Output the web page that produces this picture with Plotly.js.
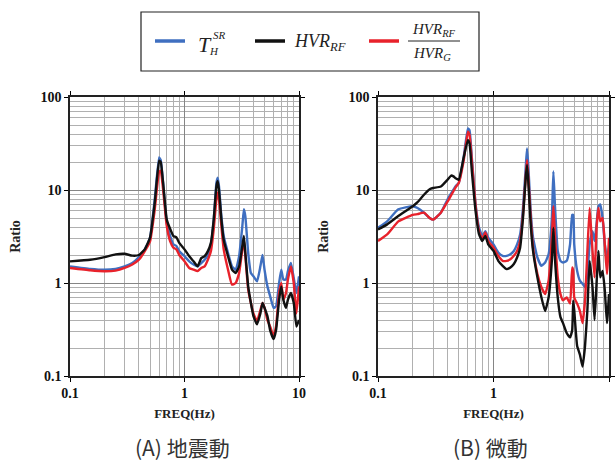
<!DOCTYPE html>
<html>
<head>
<meta charset="utf-8">
<script src="https://cdn.plot.ly/plotly-3.0.1.min.js"></script>
<style>html,body{margin:0;padding:0;background:#fff;}#chart{width:615px;height:467px;}</style>
</head>
<body>
<div id="chart"></div>
<script>
// ---- Data ----
const freqA = [0.1,0.15,0.2,0.25,0.3,0.35,0.4,0.45,0.5,0.55,0.6,0.62,0.65,0.7,0.75,0.8,0.85,0.9,1.0,1.1,1.2,1.3,1.4,1.5,1.6,1.7,1.8,1.9,1.95,2.0,2.1,2.2,2.4,2.6,2.8,3.0,3.2,3.3,3.4,3.6,3.8,4.0,4.3,4.6,4.8,5.0,5.3,5.6,6.0,6.3,6.7,7.0,7.3,7.7,8.0,8.5,9.0,9.5,10];
const tsrA  = [1.51,1.42,1.39,1.42,1.51,1.64,1.9,2.3,3.07,8,22.4,21,12,4.4,3.2,2.6,2.5,2.2,1.94,1.71,1.58,1.51,1.64,1.78,2.0,2.6,4.8,12,13.6,11,5.2,3.2,2.1,1.51,1.39,1.94,4.1,6.2,5.2,2.1,1.28,1.18,1.04,1.51,2.0,1.39,0.92,0.72,0.54,0.56,1.0,1.39,1.09,1.09,1.34,1.64,1.13,0.78,1.18];
const hvrA  = [1.71,1.78,1.9,2.03,2.06,1.97,2.0,2.3,3.07,7.3,20.6,20,12,4.8,3.8,3.2,3.1,2.7,2.3,1.94,1.71,1.51,1.85,1.94,2.2,2.7,4.8,11,12.5,10,4.8,2.9,1.94,1.39,1.28,1.51,2.5,3.2,2.1,0.92,0.61,0.44,0.36,0.47,0.61,0.54,0.44,0.31,0.25,0.31,0.66,0.92,0.66,0.54,0.66,0.78,0.61,0.34,0.4];
const ratioA = [1.45,1.37,1.34,1.36,1.45,1.58,1.78,2.2,2.8,6.2,15.7,16.1,10.2,4.1,2.8,2.4,2.3,2.0,1.71,1.45,1.39,1.34,1.45,1.51,1.78,2.2,3.8,8,9.4,8,4.1,2.3,1.39,0.96,1.0,1.28,2.3,2.9,1.94,0.85,0.61,0.47,0.39,0.51,0.61,0.54,0.4,0.34,0.27,0.34,0.78,1.0,0.66,0.78,1.09,1.51,1.0,0.47,0.92];

const freqB = [0.1,0.12,0.15,0.2,0.22,0.25,0.28,0.3,0.35,0.4,0.43,0.45,0.47,0.5,0.55,0.6,0.62,0.65,0.7,0.75,0.8,0.85,0.9,1.0,1.1,1.2,1.3,1.4,1.5,1.6,1.7,1.8,1.9,1.95,2.0,2.1,2.2,2.4,2.6,2.8,3.0,3.2,3.3,3.4,3.6,3.8,4.0,4.3,4.6,4.8,4.9,5.0,5.3,5.6,5.9,6.2,6.5,6.8,7.2,7.5,7.8,8.1,8.4,8.8,9.2,9.6,10];
const tsrB  = [3.93,4.6,6.2,6.7,6.4,5.7,5.0,4.8,5.7,7.9,9.2,10.1,11,11.9,21.9,45.8,44,21.9,7.0,3.93,3.2,3.6,3.07,2.6,2.13,1.96,1.96,2.04,2.21,2.6,3.33,6.4,17.2,28,18.6,5.9,3.07,1.88,1.53,1.66,2.04,5.0,15.8,7.0,2.21,1.73,1.66,1.73,2.6,5.4,5.4,2.6,1.35,1.06,0.98,0.9,1.25,2.6,3.6,2.83,4.27,6.7,7.0,5.0,2.6,1.88,2.4];
const hvrB  = [3.77,4.27,5.24,6.7,7.4,8.9,10.2,10.5,10.9,12.9,14.3,14.0,13.4,12.9,21.9,34.4,31.8,15.8,5.9,3.33,2.83,3.2,2.6,2.21,1.73,1.53,1.41,1.47,1.6,1.88,2.4,5.0,13.4,18.6,12.4,4.27,2.21,1.15,0.7,0.5,0.7,1.73,3.9,1.88,0.7,0.43,0.37,0.29,0.26,0.31,0.65,0.51,0.21,0.17,0.126,0.21,0.51,1.73,0.9,0.4,0.98,2.21,1.15,1.35,0.83,0.37,0.76];
const ratioB = [2.83,3.33,4.6,5.4,5.5,5.7,5.0,4.8,5.7,7.5,8.8,9.7,10.7,11.9,20.2,42.4,39,20.2,6.7,3.6,2.95,3.5,2.83,2.4,1.96,1.73,1.73,1.8,1.96,2.21,2.83,5.4,14,21,14,5.0,2.4,1.25,0.9,0.76,1.06,3.07,6.7,3.33,1.15,0.76,0.65,0.7,0.6,1.47,1.35,0.7,0.6,0.5,0.37,0.65,2.21,6.4,2.21,1.15,3.9,6.4,4.6,5.0,2.6,1.25,3.07];

const xTicks = [0.1, 1, 10];
const xTickText = ['0.1', '1', '10'];
const yTicks = [0.1, 1, 10, 100];
const yTickText = ['0.1', '1', '10', '100'];
const captions = ['(A) 地震動', '(B) 微動'];
const axisTitleX = 'FREQ(Hz)';
const axisTitleY = 'Ratio';

// ---- Styling ----
const BLUE = '#3f6fc0', BLACK = '#111111', RED = '#e8222b';
const W = 615, H = 467;
const px = v => v / W, py = v => 1 - v / H;
const serif = 'Liberation Serif, Times New Roman, serif';

function line(x, y, color, xa, ya) {
  return {x: x, y: y, type: 'scatter', mode: 'lines', xaxis: xa, yaxis: ya,
    line: {color: color, width: 2.4, shape: 'spline', smoothing: 0.4}, showlegend: false, hoverinfo: 'skip'};
}

const traces = [
  line(freqA, tsrA, BLUE, 'x', 'y'),
  line(freqA, ratioA, RED, 'x', 'y'),
  line(freqA, hvrA, BLACK, 'x', 'y'),
  line(freqB, tsrB, BLUE, 'x2', 'y2'),
  line(freqB, ratioB, RED, 'x2', 'y2'),
  line(freqB, hvrB, BLACK, 'x2', 'y2')
];

const minorVals = [];
for (const d of [0.1, 1, 10]) for (let k = 2; k <= 9; k++) minorVals.push(+(k * d).toPrecision(3));

function xAxis(domain, anchor) {
  return {type: 'log', range: [-1, 1], domain: domain, anchor: anchor,
    tickvals: xTicks, ticktext: xTickText, ticks: 'outside', ticklen: 4, tickwidth: 1, tickcolor: '#000',
    showline: true, linecolor: '#222', linewidth: 1.6, mirror: 'ticks',
    showgrid: true, gridcolor: '#858585', gridwidth: 1,
    minor: {tickvals: minorVals, showgrid: true, gridcolor: '#b0b0b0', gridwidth: 1, ticks: ''},
    tickfont: {family: serif, size: 14, color: '#111', weight: 'bold'},
    title: {text: axisTitleX, font: {family: serif, size: 13, color: '#222', weight: 'bold'}, standoff: 8},
    zeroline: false, automargin: false};
}
function yAxis(domain, anchor) {
  return {type: 'log', range: [-1, 2], domain: domain, anchor: anchor,
    tickvals: yTicks, ticktext: yTickText, ticks: 'outside', ticklen: 4, tickwidth: 1, tickcolor: '#000',
    showline: true, linecolor: '#222', linewidth: 1.6, mirror: 'ticks',
    showgrid: true, gridcolor: '#858585', gridwidth: 1,
    minor: {tickvals: minorVals.concat([20,30,40,50,60,70,80,90]), showgrid: true, gridcolor: '#b0b0b0', gridwidth: 1, ticks: ''},
    tickfont: {family: serif, size: 14, color: '#111', weight: 'bold'},
    title: {text: axisTitleY, font: {family: serif, size: 14, color: '#222', weight: 'bold'}, standoff: 16},
    zeroline: false, automargin: false};
}

function ann(x, y, text, size, family, color) {
  return {xref: 'paper', yref: 'paper', x: px(x), y: py(y), xanchor: 'center', yanchor: 'middle',
    text: text, showarrow: false, font: {family: family || serif, size: size, color: color || '#222'}};
}

const yDom = [py(376), py(97)];
const layout = {
  width: W, height: H, margin: {l: 0, r: 0, t: 0, b: 0},
  paper_bgcolor: '#fff', plot_bgcolor: '#fff', showlegend: false,
  xaxis: xAxis([px(70), px(299)], 'y'),
  yaxis: yAxis(yDom, 'x'),
  xaxis2: xAxis([px(378), px(609)], 'y2'),
  yaxis2: yAxis(yDom, 'x2'),
  shapes: [
    {type: 'rect', xref: 'paper', yref: 'paper', x0: px(141), x1: px(479), y0: py(71), y1: py(12), line: {color: '#222', width: 1.2}},
    {type: 'line', xref: 'paper', yref: 'paper', x0: px(155), x1: px(185), y0: py(41), y1: py(41), line: {color: BLUE, width: 3.5}},
    {type: 'line', xref: 'paper', yref: 'paper', x0: px(255), x1: px(285), y0: py(41), y1: py(41), line: {color: BLACK, width: 3.5}},
    {type: 'line', xref: 'paper', yref: 'paper', x0: px(369), x1: px(399), y0: py(41), y1: py(41), line: {color: RED, width: 3.5}},
    {type: 'line', xref: 'paper', yref: 'paper', x0: px(408), x1: px(460), y0: py(41), y1: py(41), line: {color: '#222', width: 1}}
  ],
  annotations: [
    ann(205, 44, '<i>T</i>', 22),
    ann(219, 35, '<i>SR</i>', 11),
    ann(214, 51, '<i>H</i>', 11),
    ann(320, 42, '<i>HVR<sub>RF</sub></i>', 18),
    ann(434, 30, '<i>HVR<sub>RF</sub></i>', 15),
    ann(432, 54, '<i>HVR<sub>G</sub></i>', 15),
    ann(182, 447, captions[0], 21, 'Noto Sans CJK JP', '#333'),
    ann(490, 447, captions[1], 21, 'Noto Sans CJK JP', '#333')
  ]
};

Plotly.newPlot('chart', traces, layout, {staticPlot: true, displayModeBar: false});
</script>
</body>
</html>
